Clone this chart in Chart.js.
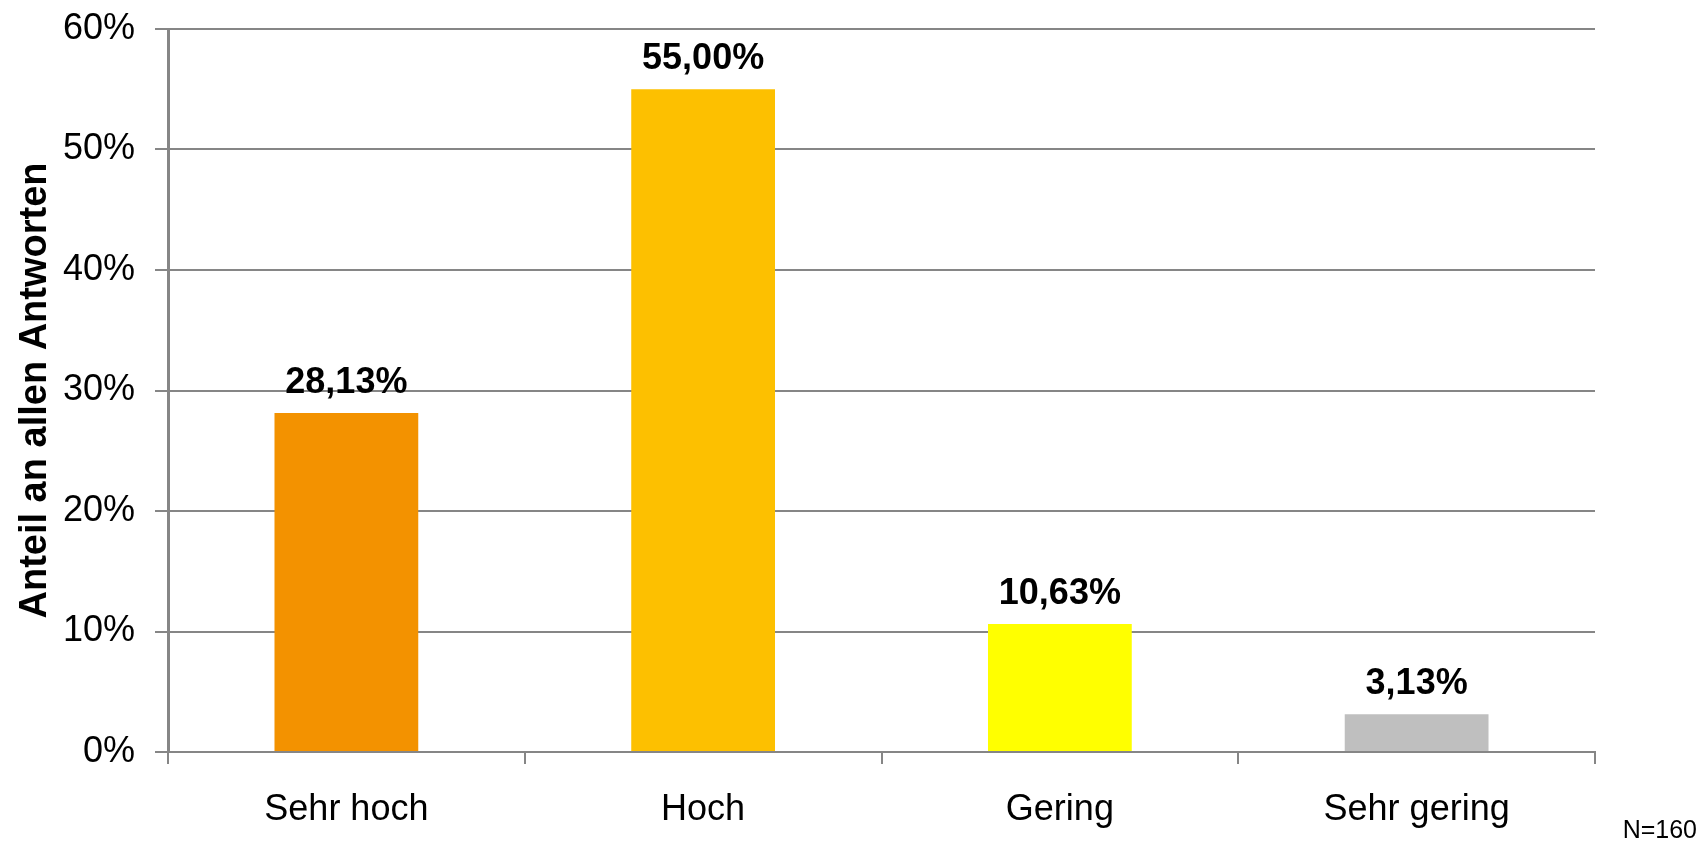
<!DOCTYPE html>
<html lang="de">

<head>
    <meta charset="UTF-8">
    <title>Anteil an allen Antworten</title>
    <style>
        html, body {
            margin: 0;
            padding: 0;
            background: #fff;
        }

        #wrap {
            position: relative;
            width: 1701px;
            height: 843px;
        }
    </style>
</head>

<body>
    <div id="wrap">
        <canvas id="chart" width="1701" height="843"></canvas>
    </div>

    <script src="https://cdn.jsdelivr.net/npm/chart.js@4/dist/chart.umd.min.js"></script>
    <script>
        const categories = ["Sehr hoch", "Hoch", "Gering", "Sehr gering"];
        const shares = [28.13, 55.00, 10.63, 3.13];
        const bar_colors = ["#f39200", "#fdc000", "#ffff00", "#bfbfbf"];
        const y_ticks = [0, 10, 20, 30, 40, 50, 60];
        const note = "N=160";

        const font_family = "'Liberation Sans', Arial, sans-serif";
        const grid_gray = "#868686";

        function format_percent(v) {
            return v.toFixed(2).replace(".", ",") + "%";
        }

        // value labels above bars + sample size note
        const bar_labels = {
            id: "bar_labels",
            afterDatasetsDraw(chart) {
                const ctx = chart.ctx;
                const meta = chart.getDatasetMeta(0);
                ctx.save();
                ctx.fillStyle = "#000";
                ctx.font = "bold 36px " + font_family;
                ctx.textAlign = "center";
                ctx.textBaseline = "alphabetic";
                meta.data.forEach((bar, i) => {
                    ctx.fillText(format_percent(shares[i]), bar.x, bar.y - 20);
                });
                ctx.font = "25px " + font_family;
                ctx.textAlign = "right";
                ctx.fillText(note, chart.width - 4, chart.height - 5);
                ctx.restore();
            }
        };

        new Chart(document.getElementById("chart"), {
            type: "bar",
            data: {
                labels: categories,
                datasets: [{
                    data: shares,
                    backgroundColor: bar_colors,
                    borderWidth: 0,
                    categoryPercentage: 1,
                    barPercentage: 0.403
                }]
            },
            options: {
                responsive: false,
                animation: false,
                layout: {
                    padding: { left: 0, right: 106, top: 22, bottom: 0 }
                },
                plugins: {
                    legend: { display: false },
                    tooltip: { enabled: false }
                },
                scales: {
                    x: {
                        offset: true,
                        afterFit: scale => { scale.height = 91; },
                        grid: {
                            offset: true,
                            drawOnChartArea: false,
                            drawTicks: true,
                            tickLength: 12,
                            color: grid_gray,
                            lineWidth: 2
                        },
                        border: { color: grid_gray, width: 2 },
                        ticks: {
                            color: "#000",
                            padding: 24,
                            font: { family: font_family, size: 36 }
                        }
                    },
                    y: {
                        min: 0,
                        max: 60,
                        afterFit: scale => { scale.width = 168; },
                        afterBuildTicks: scale => {
                            scale.ticks = y_ticks.map(v => ({ value: v }));
                        },
                        grid: {
                            color: grid_gray,
                            lineWidth: 2,
                            tickLength: 13,
                            borderDash: [9, 4, 3, 4],
                            tickBorderDash: []
                        },
                        border: { color: grid_gray, width: 3 },
                        ticks: {
                            color: "#000",
                            padding: 20,
                            font: { family: font_family, size: 36, lineHeight: 0.5 },
                            callback: v => v + "%"
                        },
                        title: {
                            display: true,
                            text: "Anteil an allen Antworten",
                            color: "#000",
                            padding: { top: 13, bottom: 0 },
                            font: { family: font_family, size: 38, weight: "bold" }
                        }
                    }
                }
            },
            plugins: [bar_labels]
        });
    </script>
</body>

</html>
